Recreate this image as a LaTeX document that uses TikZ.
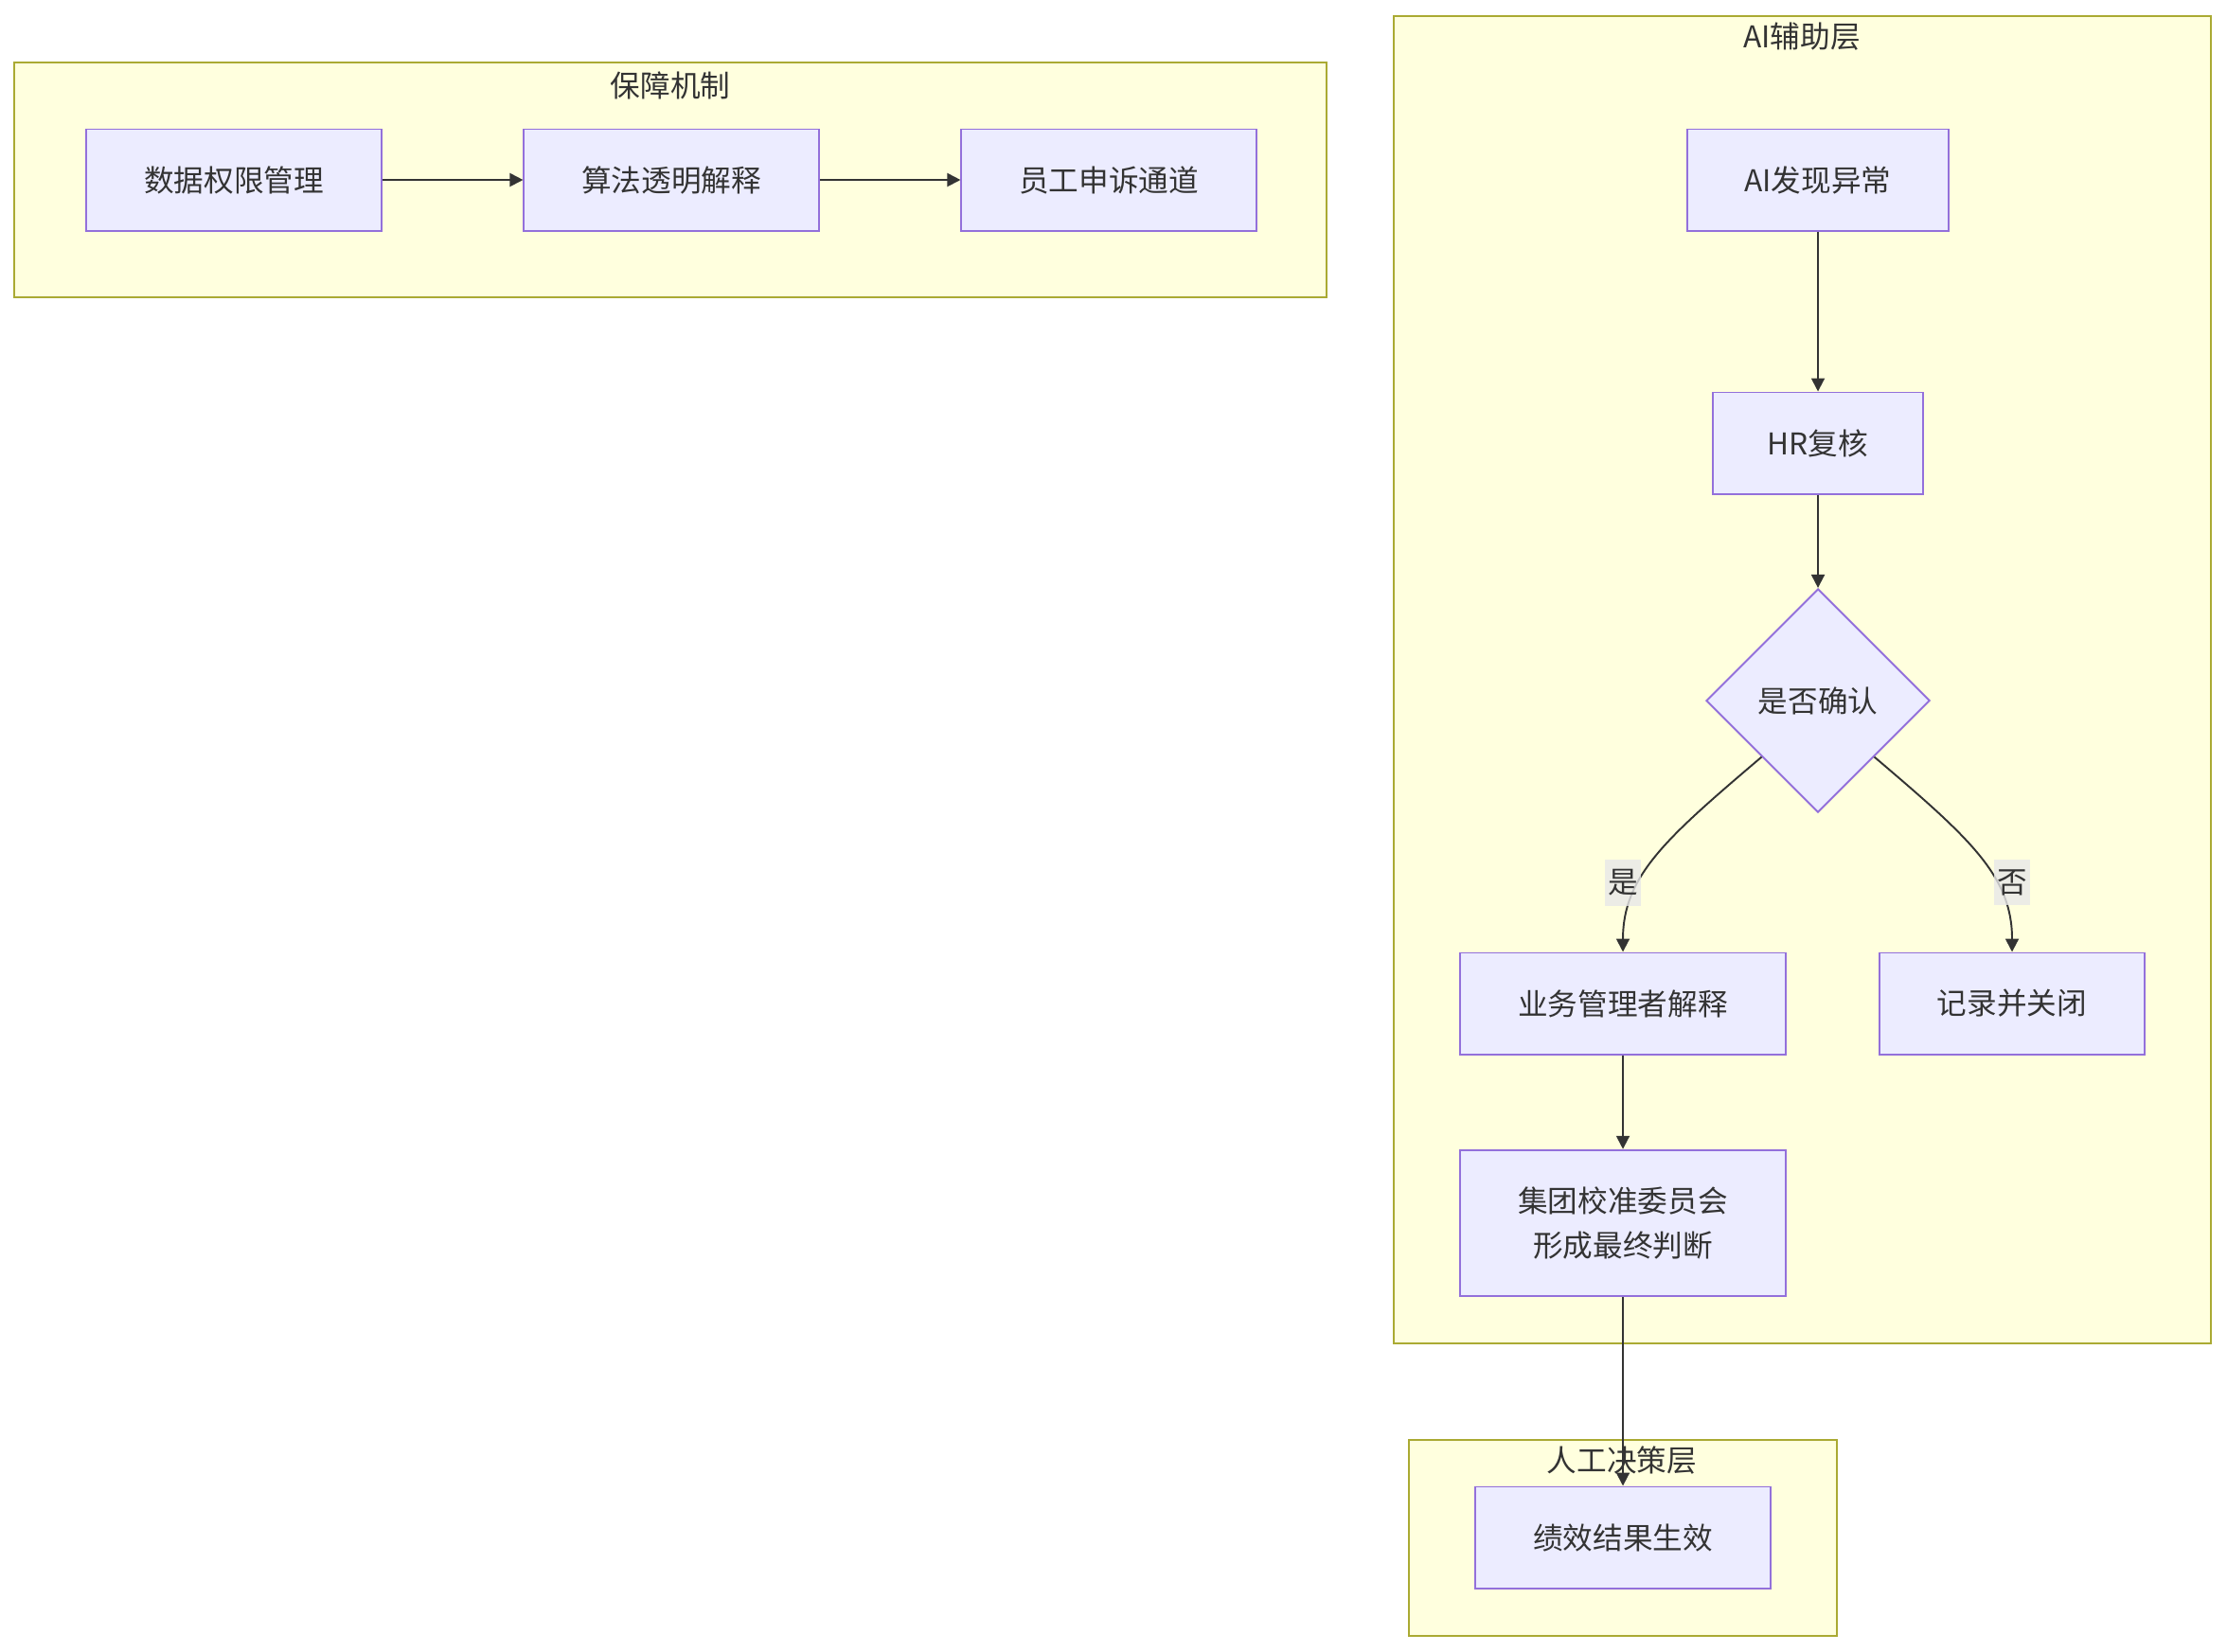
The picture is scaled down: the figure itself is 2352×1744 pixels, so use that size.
\documentclass[tikz,border=0pt]{standalone}
\usepackage{fontspec}
\setmainfont{Noto Sans CJK SC}
\usetikzlibrary{arrows.meta,shapes.geometric}
\definecolor{clusterfill}{HTML}{FFFFDE}
\definecolor{clusterline}{HTML}{AAAA33}
\definecolor{boxfill}{HTML}{ECECFF}
\definecolor{boxline}{HTML}{9370DB}
\definecolor{inkgray}{HTML}{333333}
\definecolor{labelgray}{HTML}{E8E8E8}
\begin{document}
\begin{tikzpicture}[x=0.01cm,y=-0.01cm,
    every node/.style={text=inkgray,font=\fontsize{9}{13.6}\selectfont},
    cluster/.style={draw=clusterline,fill=clusterfill,line width=0.55pt},
    stage/.style={draw=boxline,fill=boxfill,line width=0.55pt,minimum height=1.07cm,align=center},
    decide/.style={diamond,draw=boxline,fill=boxfill,line width=0.55pt,minimum width=2.36cm,minimum height=2.36cm,inner sep=0pt},
    flow/.style={draw=inkgray,line width=0.55pt,-{Triangle[length=0.14cm,width=0.14cm]}},
    branch/.style={fill=labelgray,fill opacity=0.8,text opacity=1,inner xsep=1pt,inner ysep=3pt}]
    \fill[white] (0,0) rectangle (2352,1744);
    \useasboundingbox (0,0) rectangle (2352,1744);
    % clusters
    \draw[cluster] (15,66) rectangle (1401,314);
    \node (guardtitle) at (708,90) {保障机制};
    \draw[cluster] (1472,17) rectangle (2335,1419);
    \node (aititle) at (1903,39) {AI辅助层};
    \draw[cluster] (1488,1521) rectangle (1940,1728);
    \node (humantitle) at (1713,1543) {人工决策层};
    % nodes
    \node[stage,minimum width=3.11cm] (data) at (247,190) {数据权限管理};
    \node[stage,minimum width=3.11cm] (algo) at (709,190) {算法透明解释};
    \node[stage,minimum width=3.11cm] (appeal) at (1171,190) {员工申诉通道};
    \node[stage,minimum width=2.75cm] (aifind) at (1920,190) {AI发现异常};
    \node[stage,minimum width=2.22cm] (hrcheck) at (1920,468) {HR复核};
    \node[decide] (confirm) at (1920,740) {是否确认};
    \node[stage,minimum width=3.44cm] (explain) at (1714,1060) {业务管理者解释};
    \node[stage,minimum width=2.79cm] (close) at (2125,1060) {记录并关闭};
    \node[stage,minimum width=3.44cm,minimum height=1.545cm] (committee) at (1714,1292) {集团校准委员会\\形成最终判断};
    \node[stage,minimum width=3.11cm] (result) at (1714,1624) {绩效结果生效};
    % edges
    \draw[flow] (data) -- (algo);
    \draw[flow] (algo) -- (appeal);
    \draw[flow] (aifind) -- (hrcheck);
    \draw[flow] (hrcheck) -- (confirm);
    \draw[flow] (confirm.south west) .. controls (1760,885) and (1714,925) .. (explain.north);
    \draw[flow] (confirm.south east) .. controls (2080,885) and (2125,925) .. (close.north);
    \node[branch] (yes) at (1714,932) {是};
    \node[branch] (no) at (2125,932) {否};
    \draw[flow] (explain) -- (committee);
    \draw[flow] (committee) -- (result);
\end{tikzpicture}
\end{document}
